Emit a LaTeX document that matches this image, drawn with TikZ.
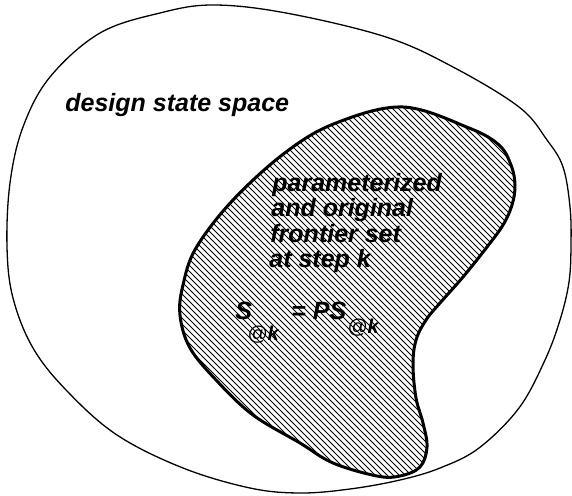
\documentclass[tikz,border=0pt]{standalone}
\usepackage{fontspec}
\setmainfont{Liberation Sans}
\begin{document}
\begin{tikzpicture}[x=0.5pt,y=-0.5pt,
  lbl/.style={font=\fontsize{12.5}{13}\selectfont\bfseries\itshape, inner sep=0pt, anchor=base west},
  sublbl/.style={font=\fontsize{10}{11}\selectfont\bfseries\itshape, inner sep=0pt, anchor=base west},
  outerline/.style={line width=0.65pt},
  innerline/.style={line width=1.5pt},
  hatchline/.style={line width=0.45pt}]
\useasboundingbox[fill=white] (0,0) rectangle (572,496);
% outer region: design state space
\draw[outerline] plot[smooth cycle, tension=0.6] coordinates {
  (213,5) (286,13) (386,37) (453,67) (519,107) (547,140) (563,167) (570,207)
  (571,245) (569,282) (560,320) (545,360) (519,408) (479,448) (440,468)
  (400,480) (350,489) (300,493) (250,488) (183,468) (117,435) (67,391)
  (33,348) (13,298) (7,247) (10,183) (23,127) (50,77) (100,33) (160,13)};
% inner region: frontier set
\path[save path=\innerpath] plot[smooth cycle, tension=0.6] coordinates {
  (403,107) (469,128) (499,145) (511,165) (515,185) (512,205) (503,225)
  (487,247) (463,277) (440,303) (426,320) (416,340) (413,365) (416,398)
  (423,423) (427,447) (420,467) (400,476) (377,476) (333,463) (300,443)
  (253,415) (217,381) (190,348) (180,315) (183,285) (196,248) (233,200)
  (286,152) (336,123)};
\begin{scope}
  \clip[use path=\innerpath];
  \foreach \c in {-210,-204,...,525}
    \draw[hatchline] (\c,100) -- ++(400,400);
\end{scope}
\draw[innerline, use path=\innerpath];
% labels
\node[lbl] (dss) at (65,112) {design state space};
\node[lbl] (l1) at (272,192) {parameterized};
\node[lbl] (l2) at (271,217) {and original};
\node[lbl] (l3) at (270,243) {frontier set};
\node[lbl] (l4) at (269,268) {at step k};
\node[lbl] (S) at (235,320) {S};
\node[sublbl] (s1) at (247,340) {{\mdseries @}k};
\node[lbl] (eq) at (291,320) {= PS};
\node[sublbl] (s2) at (347,334) {{\mdseries @}k};
\end{tikzpicture}
\end{document}
